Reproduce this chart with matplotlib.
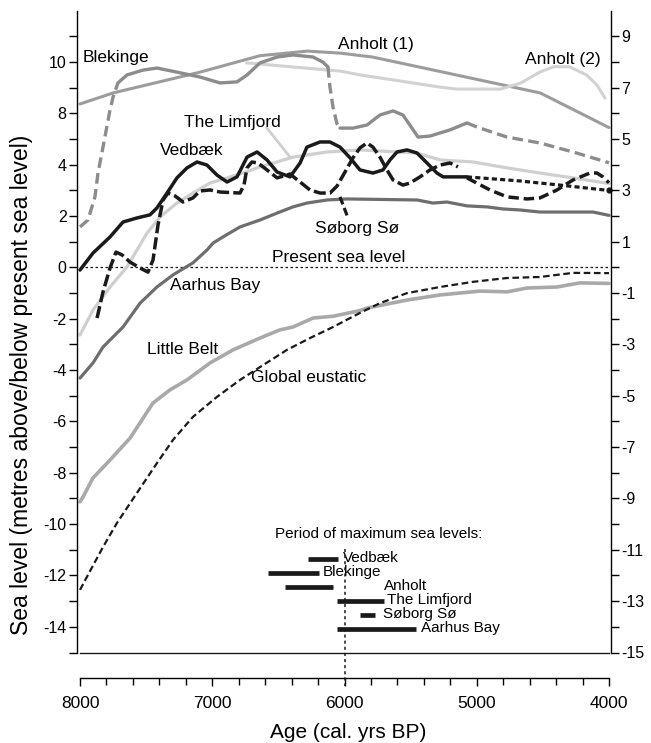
import matplotlib
matplotlib.use("Agg")
import matplotlib.pyplot as plt

plt.rcParams['font.family'] = ['Liberation Sans', 'DejaVu Sans']

# ---------------- data (age in cal. yrs BP, level in metres) ----------------
anholt1_age = [8000, 7750, 7100, 6640, 6280, 6030, 5790, 4520, 4000]
anholt1_lvl = [6.37, 6.80, 7.60, 8.25, 8.43, 8.35, 8.20, 6.80, 5.45]

anholt2_age = [6740, 6030, 5880, 5280, 5150, 4820, 4670, 4520, 4420, 4300, 4170, 4090, 4030]
anholt2_lvl = [7.97, 7.65, 7.50, 7.03, 6.95, 6.95, 7.18, 7.62, 7.82, 7.82, 7.50, 7.10, 6.60]

blek_age = [8000, 7940, 7887, 7864, 7826, 7773, 7750, 7713,
            7645, 7524, 7418, 7267, 7093, 6941, 6813, 6737, 6639, 6510, 6390, 6238, 6163, 6125,
            6110, 6087, 6057, 6034,
            5936, 5830, 5732, 5633, 5558, 5490, 5444, 5354, 5202, 5074,
            4998, 4771, 4522, 4272, 4000]
blek_lvl = [1.58, 1.85, 2.75, 3.68, 4.69, 6.14, 6.64, 7.19,
            7.50, 7.69, 7.77, 7.61, 7.42, 7.19, 7.23, 7.50, 7.97, 8.20, 8.28, 8.20, 8.00, 7.81,
            7.03, 6.25, 5.60, 5.43,
            5.43, 5.55, 5.94, 6.10, 5.94, 5.43, 5.08, 5.12, 5.36, 5.63,
            5.47, 5.08, 4.85, 4.50, 4.08]

limf_age = [8000, 7902, 7773, 7645, 7493, 7395, 7267, 7146, 7017, 6888, 6768, 6639, 6510, 6390,
            6132, 5883, 5452, 5278, 5029, 4771, 4522, 4272, 4000]
limf_lvl = [-2.63, -1.66, -0.76, 0.02, 1.34, 1.97, 2.51, 2.90, 3.29, 3.49, 3.68, 3.92, 4.11, 4.30,
            4.50, 4.58, 4.46, 4.19, 4.11, 3.88, 3.68, 3.49, 3.27]

ved_age = [8000, 7902, 7773, 7675, 7569, 7471, 7418, 7342, 7267, 7191, 7115, 7040, 6964, 6888,
           6813, 6737, 6661, 6586, 6510, 6412, 6336, 6284, 6185, 6110, 6034, 5958, 5883, 5785,
           5709, 5656, 5603, 5528, 5452, 5376, 5301, 5255, 5074]
ved_lvl = [-0.10, 0.56, 1.19, 1.77, 1.93, 2.05, 2.32, 2.90, 3.49, 3.88, 4.11, 3.99, 3.60, 3.33,
           3.53, 4.30, 4.50, 4.19, 3.72, 3.53, 4.07, 4.69, 4.89, 4.89, 4.69, 4.27, 3.80, 3.68,
           3.80, 4.19, 4.50, 4.58, 4.46, 4.07, 3.68, 3.53, 3.53]
ved_ext_age = [5074, 4673, 4371, 4000]
ved_ext_lvl = [3.53, 3.37, 3.21, 3.00]

sob_age = [7871, 7826, 7773, 7728, 7682, 7622, 7546, 7486, 7448, 7410, 7372, 7335, 7282, 7221,
           7146, 7093, 7017, 6941, 6790, 6760, 6737, 6700, 6654, 6586, 6510, 6412, 6336, 6261,
           6185, 6110, 6057, 5996, 5936, 5883, 5830, 5785, 5732, 5679, 5633, 5558, 5505, 5429,
           5354, 5278, 5202, 5142]
sob_lvl = [-1.97, -0.95, -0.02, 0.60, 0.49, 0.21, -0.02, -0.18, 0.29, 1.66, 2.63, 2.90, 2.79, 2.55,
           2.71, 2.98, 3.02, 2.94, 2.90, 3.21, 3.88, 4.11, 4.07, 3.80, 3.49, 3.64, 3.33, 3.02,
           2.90, 2.90, 3.17, 3.72, 4.27, 4.66, 4.85, 4.69, 4.30, 3.80, 3.41, 3.21, 3.29, 3.53,
           3.80, 3.99, 4.07, 3.92]
sob_late_age = [5074, 4900, 4771, 4620, 4522, 4393, 4272, 4144, 4091, 4046, 4000]
sob_late_lvl = [3.49, 3.02, 2.75, 2.67, 2.71, 3.02, 3.41, 3.68, 3.68, 3.53, 3.30]

aar_age = [8000, 7902, 7826, 7675, 7546, 7418, 7297, 7146, 7040, 6994, 6919, 6790, 6639, 6510,
           6390, 6284, 6132, 5981, 5452, 5331, 5225, 5074, 4923, 4802, 4673, 4522, 4272, 4121, 4000]
aar_lvl = [-4.31, -3.72, -3.10, -2.32, -1.39, -0.76, -0.29, 0.18, 0.68, 0.95, 1.19, 1.58, 1.85, 2.12,
           2.36, 2.51, 2.63, 2.67, 2.63, 2.51, 2.55, 2.40, 2.36, 2.28, 2.24, 2.16, 2.16, 2.16, 2.03]

lb_age = [8000, 7977, 7902, 7773, 7622, 7448, 7320, 7191, 7017, 6843, 6639, 6488, 6390, 6238,
          6087, 5883, 5830, 5528, 5278, 4976, 4771, 4620, 4393, 4220, 4000]
lb_lvl = [-9.13, -8.94, -8.20, -7.50, -6.65, -5.28, -4.77, -4.38, -3.72, -3.21, -2.75, -2.43, -2.32,
          -1.97, -1.90, -1.68, -1.58, -1.27, -1.07, -0.92, -0.95, -0.80, -0.76, -0.60, -0.62]

glob_age = [8000, 7940, 7826, 7720, 7569, 7418, 7297, 7146, 6964, 6790, 6639, 6435, 6261, 6087,
            5883, 5732, 5528, 5278, 5029, 4771, 4522, 4272, 4000]
glob_lvl = [-12.56, -11.98, -10.89, -9.95, -8.78, -7.62, -6.72, -5.82, -5.04, -4.38, -3.88, -3.21,
            -2.75, -2.32, -1.77, -1.39, -1.00, -0.76, -0.56, -0.41, -0.37, -0.21, -0.22]

# periods of maximum sea level (start, end in cal. yrs BP)
period_sites = ["Vedbæk", "Blekinge", "Anholt", "The Limfjord", "Søborg Sø", "Aarhus Bay"]
period_start = [6275, 6575, 6450, 6060, 5880, 6060]
period_end = [6050, 6195, 6090, 5700, 5770, 5460]

left_tick_vals = [-14, -12, -10, -8, -6, -4, -2, 0, 2, 4, 6, 8]
left_tick_labels = ["-14", "-12", "-10", "-8", "-6", "-4", "-2", "0", "2", "4", "8", "10"]
right_tick_vals = [-15, -13, -11, -9, -7, -5, -3, -1, 1, 3, 5, 7, 9]

# ---------------- figure ----------------
W, H = 651, 743
fig = plt.figure(figsize=(W / 100, H / 100), dpi=100)
ax = fig.add_axes([77 / W, 90.5 / H, 534 / W, 641.7 / H])
ax.set_xlim(8022.7, 3984.9)
ax.set_ylim(-15, 10)

K = '#1a1a1a'

# grey curves
ax.plot(anholt1_age, anholt1_lvl, color='#9c9c9c', lw=2.2, solid_capstyle='round', zorder=2)
ax.plot(anholt2_age, anholt2_lvl, color='#d2d2d2', lw=2.2, solid_capstyle='round', zorder=2)
ax.plot(limf_age, limf_lvl, color='#cfcfcf', lw=2.3, solid_capstyle='round', zorder=2)
ax.plot(aar_age, aar_lvl, color='#6e6e6e', lw=2.3, solid_capstyle='round', zorder=2)
ax.plot(lb_age, lb_lvl, color='#a9a9a9', lw=2.6, solid_capstyle='round', zorder=2)

# Blekinge: alternating dashed / solid pieces
blek_col = '#8c8c8c'
pieces = [(0, 8, '--'), (7, 22, '-'), (21, 26, '--'), (25, 36, '-'), (35, 41, '--')]
for i0, i1, ls in pieces:
    kw = dict(color=blek_col, lw=2.4, zorder=3)
    if ls == '--':
        ax.plot(blek_age[i0:i1], blek_lvl[i0:i1], linestyle=(0, (3.2, 1.6)), **kw)
    else:
        ax.plot(blek_age[i0:i1], blek_lvl[i0:i1], linestyle='-', solid_capstyle='round', **kw)

# present sea level
ax.plot([8000, 4000], [0, 0], color=K, lw=0.9, linestyle=(0, (2, 2)), zorder=1)

# black curves
ax.plot(ved_age, ved_lvl, color=K, lw=2.5, solid_capstyle='round', solid_joinstyle='round', zorder=5)
ax.plot(ved_ext_age, ved_ext_lvl, color=K, lw=2.3, linestyle=(0, (1.6, 1.0)), zorder=5)
ax.plot([ved_ext_age[-1]], [ved_ext_lvl[-1]], 'o', color=K, ms=3.5, zorder=6, clip_on=False)
ax.plot(sob_age, sob_lvl, color=K, lw=2.5, linestyle=(0, (3.5, 1.2)), zorder=5)
ax.plot(sob_late_age, sob_late_lvl, color=K, lw=2.5, linestyle=(0, (3.0, 1.4)), zorder=5)
ax.plot(glob_age, glob_lvl, color=K, lw=1.6, linestyle=(0, (3.0, 1.6)), zorder=4)

# leader lines
ax.plot([6586, 6412], [5.43, 4.30], color='#cfcfcf', lw=2.0, zorder=2)
ax.plot([6034, 5975], [2.75, 1.95], color=K, lw=2.3, linestyle=(0, (2.5, 1.2)), zorder=5)

# curve labels
fs_lab = 12.5
ax.text(7977, 8.2, "Blekinge", fontsize=fs_lab, ha='left', va='center')
ax.text(6049, 8.67, "Anholt (1)", fontsize=fs_lab, ha='left', va='center')
ax.text(4635, 8.12, "Anholt (2)", fontsize=fs_lab, ha='left', va='center')
ax.text(7214, 5.63, "The Limfjord", fontsize=fs_lab, ha='left', va='center')
ax.text(7395, 4.54, "Vedbæk", fontsize=fs_lab, ha='left', va='center')
ax.text(6223, 1.50, "Søborg Sø", fontsize=fs_lab, ha='left', va='center')
ax.text(6548, 0.37, "Present sea level", fontsize=fs_lab, ha='left', va='center')
ax.text(7320, -0.72, "Aarhus Bay", fontsize=fs_lab, ha='left', va='center')
ax.text(7493, -3.20, "Little Belt", fontsize=fs_lab, ha='left', va='center')
ax.text(6707, -4.30, "Global eustatic", fontsize=fs_lab, ha='left', va='center')

# period bars
fs_bar = 11
ax.text(6526, -10.38, "Period of maximum sea levels:", fontsize=fs_bar, ha='left', va='center')
bar_y = [-11.37, -11.91, -12.46, -13.0, -13.55, -14.1]
lab_x = [6011, 6163, 5701, 5679, 5709, 5422]
for name, s, e, y, lx in zip(period_sites, period_start, period_end, bar_y, lab_x):
    ax.plot([s, e], [y, y], color=K, lw=3.4, solid_capstyle='butt', zorder=5)
    ax.text(lx, y + 0.05, name, fontsize=fs_bar, ha='left', va='center', zorder=6)

# vertical dotted line at 6000
ax.plot([6000, 6000], [-10.97, -16.3], color=K, lw=1.1, linestyle=(0, (2, 2)), clip_on=False, zorder=6)

# bottom line at -15
ax.plot([8000, 4000], [-15, -15], color=K, lw=1.0, clip_on=False, zorder=6)

# axes styling
for s in ['top', 'right']:
    ax.spines[s].set_visible(False)
ax.spines['left'].set_bounds(-15, 10)
ax.spines['left'].set_linewidth(1.0)
ax.spines['bottom'].set_position(('outward', 18))
ax.spines['bottom'].set_bounds(4000, 8000)
ax.spines['bottom'].set_linewidth(1.0)

ax.set_yticks(left_tick_vals)
ax.set_yticklabels(left_tick_labels)
ax.set_yticks([v for v in range(-15, 10) if v not in left_tick_vals], minor=True)
ax.tick_params(axis='y', which='both', direction='out', length=5.5, width=1.0, labelsize=11.5, pad=2)

ax.set_xticks([8000, 7000, 6000, 5000, 4000])
ax.set_xticklabels(["8000", "7000", "6000", "5000", "4000"])
ax.set_xticks(range(4000, 8001, 200), minor=True)
ax.tick_params(axis='x', which='major', direction='out', length=6, width=1.0, labelsize=12.5, pad=7)
ax.tick_params(axis='x', which='minor', direction='out', length=5, width=1.0)

ax2 = ax.twinx()
ax2.set_ylim(-15, 10)
for s in ['top', 'left', 'bottom']:
    ax2.spines[s].set_visible(False)
ax2.spines['right'].set_bounds(-15, 10)
ax2.spines['right'].set_linewidth(1.0)
ax2.set_yticks(right_tick_vals)
ax2.set_yticklabels([str(v) for v in right_tick_vals])
ax2.set_yticks([v for v in range(-15, 10) if v not in right_tick_vals], minor=True)
ax2.tick_params(axis='y', which='both', direction='out', length=5.5, width=1.0, labelsize=11.5, pad=2)

fig.text(22 / W, 1 - 385 / H, "Sea level (metres above/below present sea level)",
         rotation=90, fontsize=16.5, ha='center', va='center')
fig.text(348 / W, 1 - 733 / H, "Age (cal. yrs BP)", fontsize=15, ha='center', va='center')

fig.savefig("out.png", dpi=100)
